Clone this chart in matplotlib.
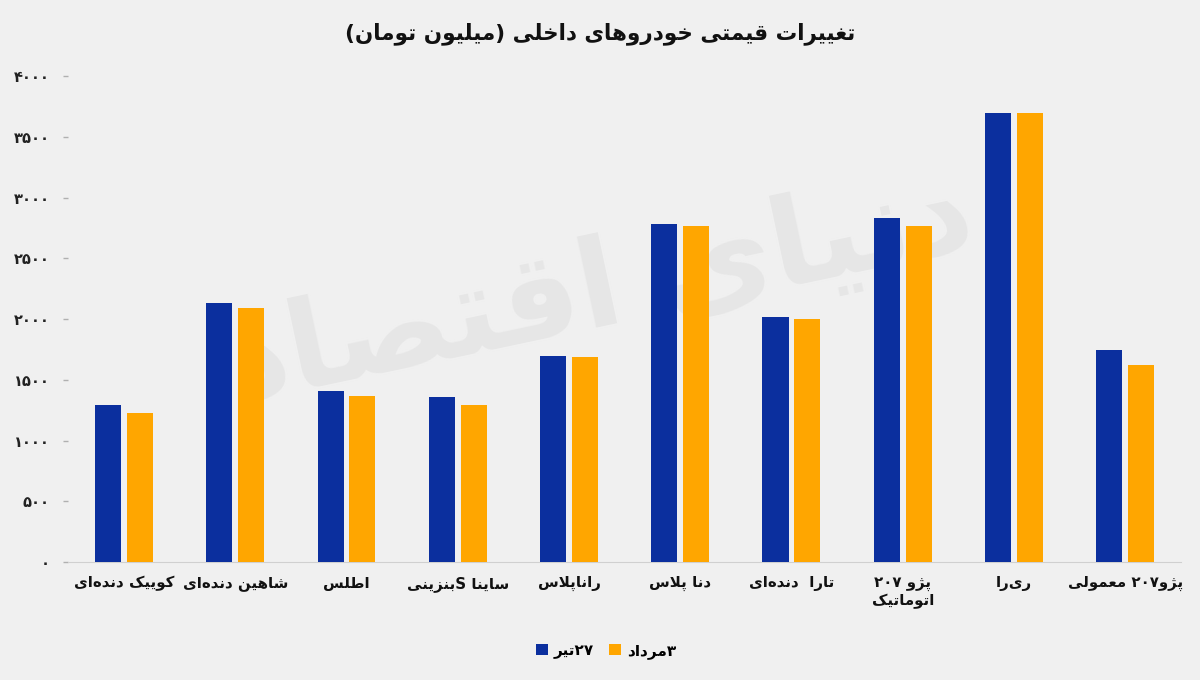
import re
import matplotlib
matplotlib.use("Agg")
import matplotlib.pyplot as plt
import numpy as np

# data
categories = ["کوییک دنده‌ای", "شاهین دنده‌ای", "اطلس", "ساینا Sبنزینی", "راناپلاس",
              "دنا پلاس", "تارا  دنده‌ای", "پژو ۲۰۷\nاتوماتیک", "ری‌را", "پژو۲۰۷ معمولی"]
tir27 = [1290, 2130, 1405, 1355, 1700, 2780, 2015, 2830, 3700, 1745]
mordad3 = [1225, 2090, 1365, 1290, 1685, 2770, 2000, 2770, 3700, 1620]
series_names = ["۲۷تیر", "۳مرداد"]
yticks = [0, 500, 1000, 1500, 2000, 2500, 3000, 3500, 4000]
title = "تغییرات قیمتی خودروهای داخلی (میلیون تومان)"
watermark = "دنیای اقتصاد"

# matplotlib has no arabic shaping, so map letters to presentation forms by hand
# (isolated, final, initial, medial)
FORMS = {
    'ا': ('\uFE8D', '\uFE8E', None, None),
    'آ': ('\uFE81', '\uFE82', None, None),
    'ب': ('\uFE8F', '\uFE90', '\uFE91', '\uFE92'),
    'پ': ('\uFB56', '\uFB57', '\uFB58', '\uFB59'),
    'ت': ('\uFE95', '\uFE96', '\uFE97', '\uFE98'),
    'ث': ('\uFE99', '\uFE9A', '\uFE9B', '\uFE9C'),
    'ج': ('\uFE9D', '\uFE9E', '\uFE9F', '\uFEA0'),
    'چ': ('\uFB7A', '\uFB7B', '\uFB7C', '\uFB7D'),
    'ح': ('\uFEA1', '\uFEA2', '\uFEA3', '\uFEA4'),
    'خ': ('\uFEA5', '\uFEA6', '\uFEA7', '\uFEA8'),
    'د': ('\uFEA9', '\uFEAA', None, None),
    'ذ': ('\uFEAB', '\uFEAC', None, None),
    'ر': ('\uFEAD', '\uFEAE', None, None),
    'ز': ('\uFEAF', '\uFEB0', None, None),
    'ژ': ('\uFB8A', '\uFB8B', None, None),
    'س': ('\uFEB1', '\uFEB2', '\uFEB3', '\uFEB4'),
    'ش': ('\uFEB5', '\uFEB6', '\uFEB7', '\uFEB8'),
    'ص': ('\uFEB9', '\uFEBA', '\uFEBB', '\uFEBC'),
    'ض': ('\uFEBD', '\uFEBE', '\uFEBF', '\uFEC0'),
    'ط': ('\uFEC1', '\uFEC2', '\uFEC3', '\uFEC4'),
    'ظ': ('\uFEC5', '\uFEC6', '\uFEC7', '\uFEC8'),
    'ع': ('\uFEC9', '\uFECA', '\uFECB', '\uFECC'),
    'غ': ('\uFECD', '\uFECE', '\uFECF', '\uFED0'),
    'ف': ('\uFED1', '\uFED2', '\uFED3', '\uFED4'),
    'ق': ('\uFED5', '\uFED6', '\uFED7', '\uFED8'),
    'ک': ('\uFB8E', '\uFB8F', '\uFB90', '\uFB91'),
    'گ': ('\uFB92', '\uFB93', '\uFB94', '\uFB95'),
    'ل': ('\uFEDD', '\uFEDE', '\uFEDF', '\uFEE0'),
    'م': ('\uFEE1', '\uFEE2', '\uFEE3', '\uFEE4'),
    'ن': ('\uFEE5', '\uFEE6', '\uFEE7', '\uFEE8'),
    'و': ('\uFEED', '\uFEEE', None, None),
    'ه': ('\uFEE9', '\uFEEA', '\uFEEB', '\uFEEC'),
    'ی': ('\uFBFC', '\uFBFD', '\uFBFE', '\uFBFF'),
}


def shape(text):
    out = []
    i = 0
    while i < len(text):
        c = text[i]
        if c not in FORMS:
            if c != '\u200c':
                out.append(c)
            i += 1
            continue
        prev = text[i - 1] if i > 0 else ''
        nxt = text[i + 1] if i + 1 < len(text) else ''
        join_prev = prev in FORMS and FORMS[prev][2] is not None
        if c == 'ل' and nxt in ('ا', 'آ'):  # lam-alef
            lig = ('\uFEFB', '\uFEFC') if nxt == 'ا' else ('\uFEF5', '\uFEF6')
            out.append(lig[1] if join_prev else lig[0])
            i += 2
            continue
        join_next = FORMS[c][2] is not None and nxt in FORMS
        iso, fin, ini, med = FORMS[c]
        if join_prev and join_next:
            out.append(med)
        elif join_prev:
            out.append(fin)
        elif join_next:
            out.append(ini)
        else:
            out.append(iso)
        i += 1
    return ''.join(out)


def fa(text):
    lines = []
    for line in text.split('\n'):
        s = shape(line)[::-1]
        s = re.sub(r'[0-9\u06F0-\u06F9A-Za-z]+', lambda m: m.group(0)[::-1], s)
        lines.append(s.translate(str.maketrans('()', ')(')))
    return '\n'.join(lines)


def fa_digits(n):
    return str(n).translate(str.maketrans('0123456789', '۰۱۲۳۴۵۶۷۸۹'))


plt.rcParams['font.family'] = ['DejaVu Sans']
bg = '#f0f0f0'
blue = '#0b2f9e'
orange = '#ffa600'

fig = plt.figure(figsize=(12, 6.8), dpi=100, facecolor=bg)
ax = fig.add_axes([0.057, 0.1735, 0.927, 0.7145])
ax.set_facecolor(bg)
ax.patch.set_alpha(0)

# faint watermark behind everything
fig.text(0.5, 0.57, fa(watermark), fontsize=88, fontweight='bold', color='#e6e6e6',
         rotation=12, ha='center', va='center', zorder=-5)

x = np.arange(len(categories))
w = 0.235
ax.bar(x - 0.143, tir27, w, color=blue, label=fa(series_names[0]), zorder=3)
ax.bar(x + 0.143, mordad3, w, color=orange, label=fa(series_names[1]), zorder=3)

ax.set_xlim(-0.5, len(categories) - 0.5)
ax.set_ylim(0, 4000)
ax.set_yticks(yticks)
ax.set_yticklabels([fa_digits(v) for v in yticks], fontsize=10.5, fontweight='bold', color='#222222')
ax.set_xticks(x)
ax.set_xticklabels([fa(c) for c in categories], fontsize=10.8, fontweight='bold',
                   color='#111111', multialignment='center')
ax.tick_params(axis='y', length=3.5, width=1, pad=10, color='#b0b0b0')
ax.tick_params(axis='x', length=0, pad=10)

for s in ['top', 'right', 'left']:
    ax.spines[s].set_visible(False)
ax.spines['bottom'].set_color('#d0d0d0')

fig.text(0.5, 0.951, fa(title), fontsize=15.5, fontweight='bold', color='#111111',
         ha='center', va='center')

fig.legend(loc='center', bbox_to_anchor=(0.505, 0.043), ncol=2, frameon=False,
           handlelength=0.75, handleheight=0.75, handletextpad=0.4, columnspacing=1.0,
           prop={'size': 11, 'weight': 'bold'})

fig.savefig("out.png", dpi=100, facecolor=bg)
